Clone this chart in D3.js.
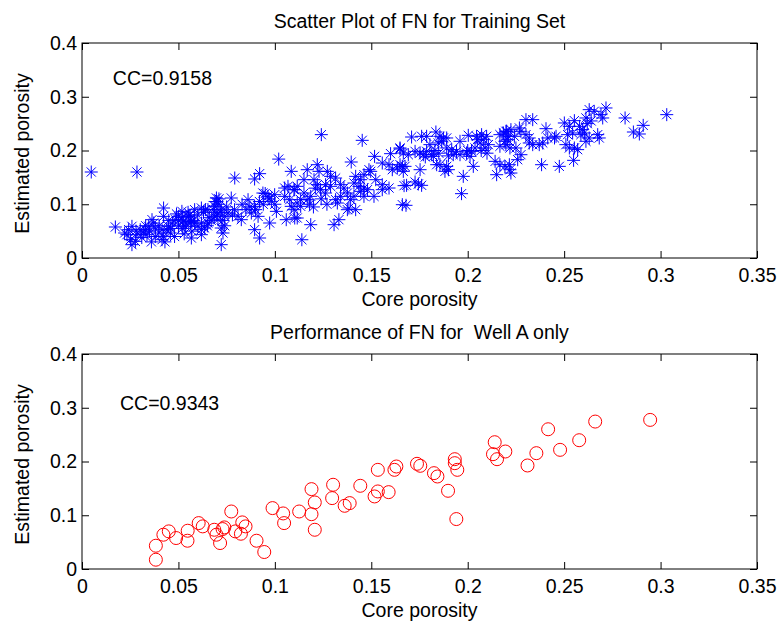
<!DOCTYPE html>
<html>
<head>
<meta charset="utf-8">
<script src="https://cdn.jsdelivr.net/npm/d3@7"></script>
<style>
  html, body { margin: 0; padding: 0; background: #fff; }
  svg text { font-family: "Liberation Sans", Arial, sans-serif; fill: #000; }
</style>
</head>
<body>
<div id="chart"></div>
<script>
// axis ticks
const xTicks = [0, 0.05, 0.1, 0.15, 0.2, 0.25, 0.3, 0.35]
const yTicks = [0, 0.1, 0.2, 0.3, 0.4]

// training set: [core porosity, estimated porosity]
const trainPairs = [
  [0.0048, 0.160], [0.0285, 0.160], [0.0173, 0.0577], [0.0221, 0.0465], [0.0233, 0.0434],
  [0.0242, 0.0527], [0.0259, 0.0589], [0.0259, 0.0248], [0.0251, 0.0341], [0.0277, 0.031],
  [0.0285, 0.0434], [0.0302, 0.0527], [0.032, 0.0465], [0.0328, 0.0527], [0.0337, 0.0434],
  [0.0346, 0.0589], [0.0363, 0.0713], [0.0372, 0.0651], [0.038, 0.0558], [0.0398, 0.0465],
  [0.0415, 0.0527], [0.0423, 0.0403], [0.0415, 0.0341], [0.0423, 0.093], [0.0423, 0.0775],
  [0.0449, 0.0589], [0.0458, 0.0465], [0.0484, 0.0713], [0.0501, 0.0775], [0.0518, 0.0868],
  [0.0527, 0.0682], [0.0536, 0.0589], [0.0553, 0.0775], [0.0562, 0.0651],
  [0.047, 0.065], [0.050, 0.060], [0.052, 0.075], [0.055, 0.085], [0.044, 0.052],
  [0.048, 0.040], [0.053, 0.045], [0.058, 0.070], [0.060, 0.080], [0.057, 0.050],
  [0.063, 0.085], [0.066, 0.075], [0.070, 0.085], [0.071, 0.100], [0.070, 0.105],
  [0.075, 0.095], [0.078, 0.080], [0.083, 0.100], [0.085, 0.090], [0.065, 0.060],
  [0.028, 0.050], [0.031, 0.038], [0.035, 0.050], [0.038, 0.040], [0.040, 0.060],
  [0.043, 0.030], [0.036, 0.030], [0.033, 0.060],
  [0.046, 0.055], [0.050, 0.070], [0.052, 0.055], [0.054, 0.065], [0.056, 0.080],
  [0.049, 0.082], [0.045, 0.070],
  [0.068, 0.090], [0.070, 0.080], [0.072, 0.085], [0.073, 0.070], [0.067, 0.070],
  [0.062, 0.065], [0.064, 0.090], [0.074, 0.060], [0.071, 0.110], [0.069, 0.105],
  [0.092, 0.105], [0.094, 0.100], [0.097, 0.110], [0.100, 0.100], [0.095, 0.120],
  [0.090, 0.090], [0.087, 0.095],
  [0.102, 0.184], [0.0792, 0.1488], [0.0895, 0.147], [0.0921, 0.1569], [0.1085, 0.1612],
  [0.0697, 0.1116], [0.0774, 0.1116], [0.0584, 0.0899], [0.0619, 0.093], [0.0653, 0.0899],
  [0.0688, 0.0961], [0.0722, 0.0899], [0.055, 0.0775], [0.0567, 0.0682], [0.0584, 0.0651],
  [0.0601, 0.0589], [0.0619, 0.0527], [0.0636, 0.0558], [0.0653, 0.0651], [0.0688, 0.0775],
  [0.0705, 0.0713], [0.074, 0.0775], [0.0757, 0.0837], [0.0791, 0.0899], [0.0809, 0.0775],
  [0.0826, 0.0713], [0.0567, 0.0372], [0.0619, 0.0434], [0.0722, 0.0248], [0.0731, 0.0465],
  [0.0722, 0.0558], [0.0861, 0.1085], [0.0895, 0.0961], [0.0878, 0.0837], [0.0913, 0.0775],
  [0.0895, 0.0527], [0.0921, 0.0372], [0.0973, 0.0651], [0.0938, 0.1209], [0.0964, 0.1147],
  [0.0982, 0.1054], [0.0999, 0.1178], [0.1008, 0.0868], [0.1051, 0.1302], [0.1068, 0.1333],
  [0.1051, 0.1147], [0.1077, 0.1085], [0.1085, 0.0961], [0.1103, 0.1271], [0.1059, 0.0713],
  [0.1103, 0.0744], [0.114, 0.034],
  [0.118, 0.100], [0.120, 0.095], [0.124, 0.110], [0.127, 0.100], [0.121, 0.130],
  [0.1241, 0.2295], [0.1453, 0.2189], [0.1396, 0.1786], [0.1517, 0.1891], [0.16, 0.1941],
  [0.1649, 0.2028], [0.1557, 0.1767], [0.1592, 0.1736], [0.1609, 0.1643], [0.1635, 0.1674],
  [0.1661, 0.1705], [0.1488, 0.1643], [0.1497, 0.1612], [0.1462, 0.155], [0.1419, 0.1519],
  [0.1445, 0.1457], [0.141, 0.1395], [0.1436, 0.1333], [0.1462, 0.1302], [0.1168, 0.1643],
  [0.122, 0.1736], [0.1229, 0.1612], [0.1272, 0.1612], [0.1289, 0.1519], [0.1315, 0.1488],
  [0.1151, 0.1457], [0.1203, 0.1457], [0.122, 0.1364], [0.1263, 0.1364], [0.1116, 0.1333],
  [0.1099, 0.1271], [0.1151, 0.1209], [0.1186, 0.1147], [0.1168, 0.1085], [0.1134, 0.1085],
  [0.1116, 0.1023], [0.1134, 0.0961], [0.1099, 0.0899], [0.1237, 0.1271], [0.1263, 0.1209],
  [0.1289, 0.1333], [0.1341, 0.1364], [0.1358, 0.1302], [0.1376, 0.1209], [0.1393, 0.1085],
  [0.141, 0.1147], [0.1445, 0.124], [0.148, 0.1271], [0.1315, 0.1085], [0.1341, 0.1147],
  [0.1324, 0.1023], [0.1384, 0.093], [0.1419, 0.0899], [0.1376, 0.0899], [0.1557, 0.1364],
  [0.1557, 0.1271], [0.1592, 0.1302], [0.1523, 0.1457], [0.1514, 0.1147], [0.1462, 0.1147],
  [0.1116, 0.0744], [0.1186, 0.062], [0.1307, 0.062], [0.1332, 0.0713], [0.1661, 0.0992],
  [0.167, 0.1346],
  [0.1709, 0.2251], [0.1761, 0.2264], [0.1787, 0.2264], [0.1835, 0.2344], [0.1856, 0.2264],
  [0.1874, 0.2233], [0.1891, 0.2233], [0.1847, 0.214], [0.1865, 0.2171], [0.196, 0.2171],
  [0.2003, 0.2282], [0.2046, 0.2264], [0.2072, 0.2295], [0.2098, 0.2264], [0.2081, 0.2202],
  [0.2064, 0.214], [0.2107, 0.2109], [0.209, 0.2047], [0.2167, 0.2295], [0.2185, 0.2326],
  [0.2202, 0.2357], [0.2211, 0.2264], [0.2193, 0.2171], [0.2167, 0.2078], [0.2219, 0.2047],
  [0.1649, 0.2047], [0.1666, 0.1953], [0.1692, 0.1922], [0.1727, 0.1984], [0.1753, 0.1953],
  [0.177, 0.1922], [0.1787, 0.1984], [0.1804, 0.2109], [0.1813, 0.1922], [0.1822, 0.1891],
  [0.1891, 0.2047], [0.1917, 0.2016], [0.1942, 0.1984], [0.196, 0.1922], [0.1925, 0.1922],
  [0.1994, 0.1953], [0.2012, 0.1891], [0.202, 0.1984], [0.2038, 0.2047], [0.1649, 0.1736],
  [0.1666, 0.1612], [0.1675, 0.1705], [0.1753, 0.1643], [0.1839, 0.1736], [0.1856, 0.1736],
  [0.1891, 0.1705], [0.19, 0.1643], [0.1882, 0.1612], [0.1977, 0.1519], [0.2029, 0.1705],
  [0.2142, 0.1798], [0.2167, 0.1736], [0.2193, 0.1705], [0.2219, 0.1643], [0.215, 0.155],
  [0.1683, 0.1352], [0.1727, 0.1414], [0.1744, 0.1377], [0.1761, 0.1352], [0.1968, 0.1197],
  [0.168, 0.098],
  [0.183, 0.200], [0.185, 0.195], [0.190, 0.190], [0.178, 0.188],
  [0.205, 0.220], [0.207, 0.200], [0.210, 0.195], [0.200, 0.200],
  [0.2302, 0.2574], [0.2337, 0.2574], [0.2406, 0.2406], [0.2501, 0.2512], [0.2527, 0.245],
  [0.2553, 0.2555], [0.2596, 0.2388], [0.2613, 0.2605], [0.263, 0.276], [0.2656, 0.2729],
  [0.2691, 0.2667], [0.2717, 0.2791], [0.27, 0.2605], [0.2587, 0.2295], [0.2605, 0.2326],
  [0.263, 0.2233], [0.2674, 0.2295], [0.2682, 0.2233], [0.2198, 0.2357], [0.2224, 0.2388],
  [0.2268, 0.2419], [0.2276, 0.2357], [0.2242, 0.2264], [0.2207, 0.2202], [0.2302, 0.2295],
  [0.2319, 0.2233], [0.2319, 0.214], [0.2337, 0.2109], [0.2371, 0.2109], [0.2389, 0.214],
  [0.2415, 0.2233], [0.245, 0.2233], [0.2458, 0.2264], [0.2509, 0.2109], [0.2527, 0.2047],
  [0.2553, 0.2047], [0.257, 0.2016], [0.2613, 0.2171], [0.2518, 0.2295], [0.2544, 0.2326],
  [0.2198, 0.2109], [0.225, 0.2047], [0.2276, 0.1922], [0.2259, 0.1829], [0.2216, 0.1736],
  [0.2383, 0.1736], [0.2475, 0.1705], [0.2549, 0.1817], [0.2224, 0.1581],
  [0.262, 0.250], [0.264, 0.255], [0.258, 0.245],
  [0.2816, 0.2605], [0.3032, 0.2667], [0.291, 0.2468], [0.2859, 0.2344], [0.289, 0.2307]
]

// well A only: [core porosity, estimated porosity]
const wellPairs = [
  [0.0383, 0.0433], [0.0383, 0.0173], [0.0422, 0.0638], [0.045, 0.070], [0.0488, 0.0576],
  [0.0548, 0.0712], [0.0547, 0.0526], [0.0605, 0.0854], [0.0626, 0.0793], [0.0686, 0.073],
  [0.0697, 0.0638], [0.0716, 0.0483], [0.0729, 0.0743], [0.0738, 0.0774], [0.0774, 0.107],
  [0.0795, 0.070], [0.0824, 0.0656], [0.0831, 0.0867], [0.0848, 0.0793], [0.0905, 0.0526],
  [0.0945, 0.0316], [0.0988, 0.1133], [0.1043, 0.1034], [0.1048, 0.0854], [0.1126, 0.107],
  [0.119, 0.102], [0.119, 0.1486], [0.1207, 0.1238], [0.1207, 0.073], [0.1302, 0.1567],
  [0.1297, 0.1319], [0.1362, 0.1176], [0.1388, 0.1226], [0.1443, 0.1548], [0.1517, 0.135],
  [0.1534, 0.1443], [0.1534, 0.1845], [0.159, 0.143], [0.162, 0.1845], [0.163, 0.1907],
  [0.1737, 0.1957], [0.1754, 0.192], [0.1825, 0.1783], [0.1843, 0.1721], [0.1898, 0.1455],
  [0.1933, 0.2043], [0.1933, 0.1969], [0.1946, 0.1845], [0.1941, 0.0929], [0.2131, 0.2136],
  [0.214, 0.2359], [0.2152, 0.2043], [0.2195, 0.2186], [0.231, 0.1926], [0.2356, 0.2155],
  [0.2417, 0.26], [0.2479, 0.2217], [0.2578, 0.2396], [0.2661, 0.2743], [0.2946, 0.2774]
]

const panels = [
  { title: 'Scatter Plot of FN for Training Set', cc: 'CC=0.9158', ccAt: [0.016, 0.335],
    top: 43, data: trainPairs, marker: 'star', color: '#0000ff' },
  { title: 'Performance of FN for \u00a0Well A only', cc: 'CC=0.9343', ccAt: [0.0197, 0.309],
    top: 354, data: wellPairs, marker: 'circle', color: '#ff0000' }
]

const width = 782
const height = 627
const left = 82, right = 757, axH = 215
const fontSize = '19.5px'

const svg = d3.select('#chart')
  .append('svg')
  .attr('width', width)
  .attr('height', height)

const x = d3.scaleLinear().domain([0, 0.35]).range([left, right])

const starPath = (() => {
  const r = 6.5, d = r * Math.SQRT1_2
  return `M${-r},0H${r}M0,${-r}V${r}M${-d},${-d}L${d},${d}M${-d},${d}L${d},${-d}`
})()

panels.forEach(p => {
  const y = d3.scaleLinear().domain([0, 0.4]).range([p.top + axH, p.top])
  const g = svg.append('g')

  // points first so the box sits on top
  const pts = g.append('g')
  if (p.marker === 'star') {
    pts.selectAll('path')
      .data(p.data)
      .join('path')
      .attr('d', starPath)
      .attr('transform', d => `translate(${x(d[0])},${y(d[1])})`)
      .attr('fill', 'none')
      .attr('stroke', p.color)
      .attr('stroke-width', 1)
  } else {
    pts.selectAll('circle')
      .data(p.data)
      .join('circle')
      .attr('cx', d => x(d[0]))
      .attr('cy', d => y(d[1]))
      .attr('r', 6.5)
      .attr('fill', 'none')
      .attr('stroke', p.color)
      .attr('stroke-width', 1)
  }

  const tickLen = 7
  // bottom and top axes (ticks inward)
  g.append('g')
    .attr('transform', `translate(0,${p.top + axH})`)
    .call(d3.axisBottom(x).tickValues(xTicks).tickSize(-tickLen).tickPadding(10)
      .tickFormat(d => d3.format('')(+d.toFixed(2))))
    .call(a => a.select('.domain').remove())
  g.append('g')
    .attr('transform', `translate(0,${p.top})`)
    .call(d3.axisTop(x).tickValues(xTicks).tickSize(-tickLen).tickFormat(''))
    .call(a => a.select('.domain').remove())
  // left and right
  g.append('g')
    .attr('transform', `translate(${left},0)`)
    .call(d3.axisLeft(y).tickValues(yTicks).tickSize(-tickLen).tickPadding(5)
      .tickFormat(d => d3.format('')(+d.toFixed(1))))
    .call(a => a.select('.domain').remove())
  g.append('g')
    .attr('transform', `translate(${right},0)`)
    .call(d3.axisRight(y).tickValues(yTicks).tickSize(-tickLen).tickFormat(''))
    .call(a => a.select('.domain').remove())

  g.selectAll('.tick line').attr('stroke', '#000')
  g.selectAll('.tick text')
    .style('font-size', fontSize)
    .attr('fill', '#000')

  // box
  g.append('rect')
    .attr('x', left)
    .attr('y', p.top)
    .attr('width', right - left)
    .attr('height', axH)
    .attr('fill', 'none')
    .attr('stroke', '#000')
    .attr('stroke-width', 1)

  g.append('text')
    .attr('x', (left + right) / 2)
    .attr('y', p.top - 15)
    .attr('text-anchor', 'middle')
    .style('font-size', fontSize)
    .text(p.title)

  g.append('text')
    .attr('x', (left + right) / 2)
    .attr('y', p.top + axH + 48)
    .attr('text-anchor', 'middle')
    .style('font-size', fontSize)
    .text('Core porosity')

  g.append('text')
    .attr('transform', `translate(29,${p.top + axH / 2 + 3}) rotate(-90)`)
    .attr('text-anchor', 'middle')
    .style('font-size', fontSize)
    .text('Estimated porosity')

  g.append('text')
    .attr('x', x(p.ccAt[0]))
    .attr('y', y(p.ccAt[1]))
    .attr('dy', '0.35em')
    .style('font-size', fontSize)
    .text(p.cc)
})
</script>
</body>
</html>
